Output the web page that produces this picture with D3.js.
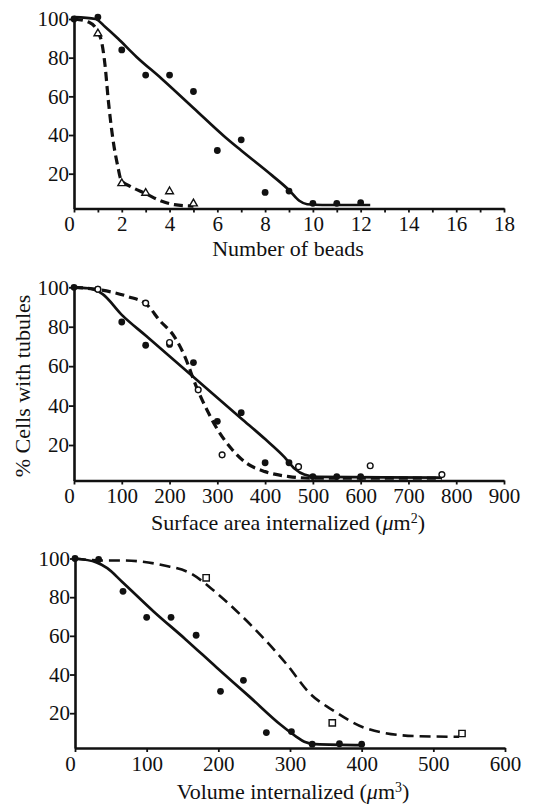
<!DOCTYPE html>
<html>
<head>
<meta charset="utf-8">
<script src="https://cdn.jsdelivr.net/npm/d3@7"></script>
<style>
  body { margin: 0; background: #fff; }
  svg text { font-family: 'Liberation Serif', 'DejaVu Serif', serif !important; }
</style>
</head>
<body>
<script>
// ---- panel 1: number of beads ----
const beadsTicks = d3.range(0, 19, 1);
const beadsFilled = [[0,100],[1,101],[2,84],[3,71],[4,71],[5,62.5],[6,32],[7,37.5],[8,10.3],[9,11],[10,4.7],[11,4.7],[12,5]];
const beadsTriangles = [[1,92.5],[2,15],[3,10],[4,10.8],[5,4.5]];
const beadsSolid = [[0,101],[0.9,100],[1.3,96],[1.83,90],[2.62,80.4],[3.68,69],[5,54],[6.32,39],[7,32],[8.3,19],[9,11.5],[9.43,6],[9.76,4.2],[10.4,3.8],[12.4,3.8]];
const beadsDashed = [[0,100],[0.63,98.3],[1,93.4],[1.16,88],[1.3,76],[1.43,58.7],[1.63,37.8],[1.83,24],[1.98,16.5],[2.35,13.5],[3,9.7],[3.68,5.7],[4.2,4],[5,3.2]];

// ---- panel 2: surface area ----
const surfTicks = d3.range(0, 901, 100);
const surfFilled = [[0,100],[50,99],[100,82.4],[150,70.6],[200,71],[250,61.8],[300,32],[350,36.4],[400,11],[450,11],[500,4],[550,4],[600,4]];
const surfOpen = [[50,99],[150,92],[200,72],[260,48],[310,15],[470,9],[620,9.5],[770,5]];
const surfSolid = [[0,100],[30,99.5],[60,96.5],[100,86],[150,75.5],[200,65],[250,54.5],[300,44],[350,33.5],[400,23],[440,14],[462,8],[482,5],[510,3.8],[770,3.5]];
const surfDashed = [[0,100],[57,98.6],[113,95.3],[151,91.5],[180,83],[210,75],[230,66],[257,49],[280,37],[300,28],[330,18],[360,11],[400,6.5],[450,4],[500,3.2],[770,3.2]];

// ---- panel 3: volume ----
const volTicks = d3.range(0, 601, 100);
const volFilled = [[0,100],[33,99.5],[67,83],[100,69.6],[134,69.6],[169,60.3],[203,31.3],[235,37],[267,10],[302,10.5],[331,4],[369,4.2],[400,4]];
const volSquares = [[183,90],[359,15],[540,9.5]];
const volSolid = [[0,100],[30,98],[45,95],[65.6,88],[110,72.5],[154,58.3],[198,43.5],[243,28.7],[287,14],[309,7.8],[320,5.2],[335,4],[402,3.5]];
const volDashed = [[0,100],[35,99],[65,99],[123,96.5],[163,92],[190,84.5],[225,73],[260,60],[296,45],[327,30.5],[362,21],[406,12.2],[473,8.2],[536,7.8]];

const yTicks = [20, 40, 60, 80, 100];

const W = 547, H = 805;
const svg = d3.select("body").append("svg").attr("width", W).attr("height", H);

function drawPanel(p) {
  const x = d3.scaleLinear().domain(p.xDomain).range([p.left, p.right]);
  const y = d3.scaleLinear().domain([2, 100]).range([p.bottom, p.top]);
  const g = svg.append("g");

  const xAxis = g.append("g")
    .attr("transform", `translate(0,${p.bottom})`)
    .call(d3.axisBottom(x).tickValues(p.xTicks).tickSizeInner(4).tickSizeOuter(0)
      .tickPadding(4).tickFormat(p.xFormat || (d => d)));
  xAxis.attr("font-size", 21).attr("font-family", null);
  xAxis.select(".domain").attr("stroke", "#111").attr("stroke-width", 2.6);
  xAxis.selectAll(".tick line").attr("stroke", "#111").attr("stroke-width", 1.8);
  xAxis.selectAll(".tick text").attr("fill", "#111").filter(d => d === 0).attr("dx", -5);

  const yAxis = g.append("g")
    .attr("transform", `translate(${p.left},0)`)
    .call(d3.axisLeft(y).tickValues(yTicks).tickSizeInner(5).tickSizeOuter(0).tickPadding(0));
  yAxis.attr("font-size", 21).attr("font-family", null);
  yAxis.select(".domain").attr("stroke", "#111").attr("stroke-width", 2.6);
  yAxis.selectAll(".tick line").attr("stroke", "#111").attr("stroke-width", 1.8);
  yAxis.selectAll(".tick text").attr("fill", "#111");

  const line = d3.line().x(d => x(d[0])).y(d => y(d[1])).curve(d3.curveMonotoneX);
  g.append("path").datum(p.solid).attr("d", line)
    .attr("fill", "none").attr("stroke", "#111").attr("stroke-width", 2.7);
  g.append("path").datum(p.dashed).attr("d", line)
    .attr("fill", "none").attr("stroke", "#111").attr("stroke-width", p.dashWidth)
    .attr("stroke-dasharray", p.dashArray);

  g.selectAll("circle.filled").data(p.filled).enter().append("circle").classed("filled", true)
    .attr("cx", d => x(d[0])).attr("cy", d => y(d[1])).attr("r", 3.4).attr("fill", "#111");

  const sym = d3.symbol().type(p.openType).size(p.openSize);
  g.selectAll("path.open").data(p.open).enter().append("path").classed("open", true)
    .attr("transform", d => `translate(${x(d[0])},${y(d[1])})`)
    .attr("d", sym).attr("fill", "#fff").attr("stroke", "#111").attr("stroke-width", 1.4);

  g.append("text").attr("x", p.titleX).attr("y", p.titleY)
    .attr("text-anchor", "middle").attr("fill", "#111")
    .attr("font-size", p.titleSize)
    .html(p.title);
}

drawPanel({
  xDomain: [0, 18], xTicks: beadsTicks, xFormat: d => (d % 2 === 0 ? d : ""),
  left: 74, right: 504, top: 19, bottom: 208.5,
  solid: beadsSolid, dashed: beadsDashed, dashWidth: 3.2, dashArray: "9,5",
  filled: beadsFilled, open: beadsTriangles, openType: d3.symbolTriangle, openSize: 26,
  title: "Number of beads", titleX: 288, titleY: 256, titleSize: 22
});

drawPanel({
  xDomain: [0, 900], xTicks: surfTicks,
  left: 74, right: 504, top: 287.3, bottom: 480.5,
  solid: surfSolid, dashed: surfDashed, dashWidth: 3.2, dashArray: "9,5",
  filled: surfFilled, open: surfOpen, openType: d3.symbolCircle, openSize: 26,
  title: 'Surface area internalized (<tspan font-style="italic">μ</tspan>m<tspan dy="-7" font-size="14">2</tspan><tspan dy="7">)</tspan>',
  titleX: 288, titleY: 530, titleSize: 22
});

drawPanel({
  xDomain: [0, 600], xTicks: volTicks,
  left: 75, right: 505, top: 558.5, bottom: 748,
  solid: volSolid, dashed: volDashed, dashWidth: 2.6, dashArray: "11,6",
  filled: volFilled, open: volSquares, openType: d3.symbolSquare, openSize: 40,
  title: 'Volume internalized (<tspan font-style="italic">μ</tspan>m<tspan dy="-7" font-size="14">3</tspan><tspan dy="7">)</tspan>',
  titleX: 293, titleY: 799, titleSize: 22
});

svg.append("text")
  .attr("transform", "translate(30,386) rotate(-90)")
  .attr("text-anchor", "middle").attr("fill", "#111")
  .attr("font-size", 22)
  .text("% Cells with tubules");
</script>
</body>
</html>
